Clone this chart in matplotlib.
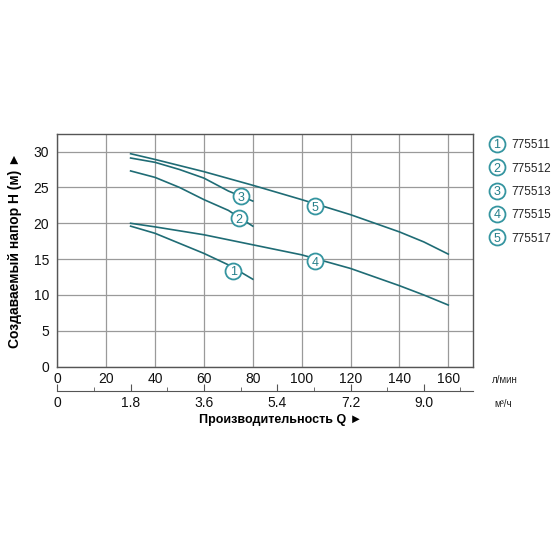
import matplotlib
matplotlib.use("Agg")
import matplotlib.pyplot as plt
import numpy as np

plt.rcParams['font.family'] = ['Liberation Sans', 'DejaVu Sans']

# Data (flow in l/min, head in m)
q1 = [30, 40, 50, 60, 70, 80]
h1 = [19.6, 18.6, 17.2, 15.8, 14.2, 12.2]
q2 = [30, 40, 50, 60, 70, 80]
h2 = [27.3, 26.4, 25.0, 23.3, 21.8, 19.6]
q3 = [30, 40, 50, 60, 70, 80]
h3 = [29.1, 28.5, 27.5, 26.3, 24.5, 23.1]
q4 = [30, 40, 60, 80, 100, 120, 140, 150, 160]
h4 = [20.0, 19.5, 18.4, 17.0, 15.6, 13.7, 11.3, 10.0, 8.6]
q5 = [30, 40, 60, 80, 100, 120, 140, 150, 160]
h5 = [29.7, 28.9, 27.2, 25.3, 23.3, 21.2, 18.8, 17.4, 15.7]

curve_numbers = ['1', '2', '3', '4', '5']
models = ['775511', '775512', '775513', '775515', '775517']
label_q = [72, 74.3, 75, 105.4, 105.4]
label_h = [13.4, 20.7, 23.8, 14.7, 22.4]

x_ticks_lmin = [0, 20, 40, 60, 80, 100, 120, 140, 160]
y_ticks = [0, 5, 10, 15, 20, 25, 30]
x_ticks_m3h = [0, 1.8, 3.6, 5.4, 7.2, 9.0]
x_tick_labels_m3h = ['0', '1.8', '3.6', '5.4', '7.2', '9.0']

line_c = '#1f6c75'
circ_c = '#3595a0'
num_c = '#257f8a'

fig = plt.figure(figsize=(5.6, 5.6), dpi=100)
ax = fig.add_axes([57.3/560, 1-366.7/560, (472.7-57.3)/560, (366.7-134)/560])
ax.set_xlim(0, 170)
ax.set_ylim(0, 32.45)
ax.set_xticks(x_ticks_lmin)
ax.set_yticks(y_ticks)
ax.grid(True, color='#9a9a9a', linewidth=0.9)
ax.set_axisbelow(True)
for s in ax.spines.values():
    s.set_color('#555555')
    s.set_linewidth(1.0)
ax.tick_params(axis='both', length=0, labelsize=10, colors='#111111')
ax.tick_params(axis='y', pad=6)
ax.tick_params(axis='x', pad=4)

for q, h in [(q1, h1), (q2, h2), (q3, h3), (q4, h4), (q5, h5)]:
    ax.plot(q, h, color=line_c, linewidth=1.2, zorder=3)

for n, xq, yh in zip(curve_numbers, label_q, label_h):
    ax.plot([xq], [yh], marker='o', ms=11.5, mfc='white', mec=circ_c, mew=1.3, zorder=4)
    ax.text(xq, yh, n, color=num_c, fontsize=9, ha='center', va='center_baseline', zorder=5)

ax.set_ylabel('Создаваемый напор H (м) ►', fontsize=10, fontweight='bold', labelpad=8)

# secondary axis in m3/h
ax2 = fig.add_axes([57.3/560, 1-390.7/560, (472.7-57.3)/560, 0.0001])
ax2.set_xlim(0, 170 / (1000/60))
ax2.set_ylim(0, 1)
for k in ['top', 'left', 'right']:
    ax2.spines[k].set_visible(False)
ax2.spines['bottom'].set_color('#555555')
ax2.set_yticks([])
ax2.set_xticks(x_ticks_m3h)
ax2.set_xticklabels(x_tick_labels_m3h)
ax2.set_xticks(np.arange(0.9, 10.0, 1.8), minor=True)
ax2.tick_params(axis='x', which='major', direction='in', length=5, color='#555555', labelsize=10, pad=3.5, colors='#111111')
ax2.tick_params(axis='x', which='minor', direction='in', length=3, color='#555555')
ax2.patch.set_visible(False)

fig.text(505/560, 1-380/560, 'л/мин', fontsize=7, ha='center', va='center', color='#222222')
fig.text(503/560, 1-404/560, 'м³/ч', fontsize=7, ha='center', va='center', color='#222222')
fig.text(281/560, 1-420/560, 'Производительность Q ►', fontsize=9, fontweight='bold', ha='center', va='center')

leg_y = [144, 167.3, 190.6, 213.9, 237.2]
for n, m, yy in zip(curve_numbers, models, leg_y):
    fig.lines.append(plt.Line2D([496.7/560], [1-yy/560], marker='o', ms=11.5, mfc='white', mec=circ_c, mew=1.3, transform=fig.transFigure))
    fig.text(496.7/560, 1-yy/560, n, color=num_c, fontsize=9, ha='center', va='center_baseline')
    fig.text(511/560, 1-yy/560, m, fontsize=8.5, ha='left', va='center_baseline', color='#222222')

fig.savefig('out.png', dpi=100)
